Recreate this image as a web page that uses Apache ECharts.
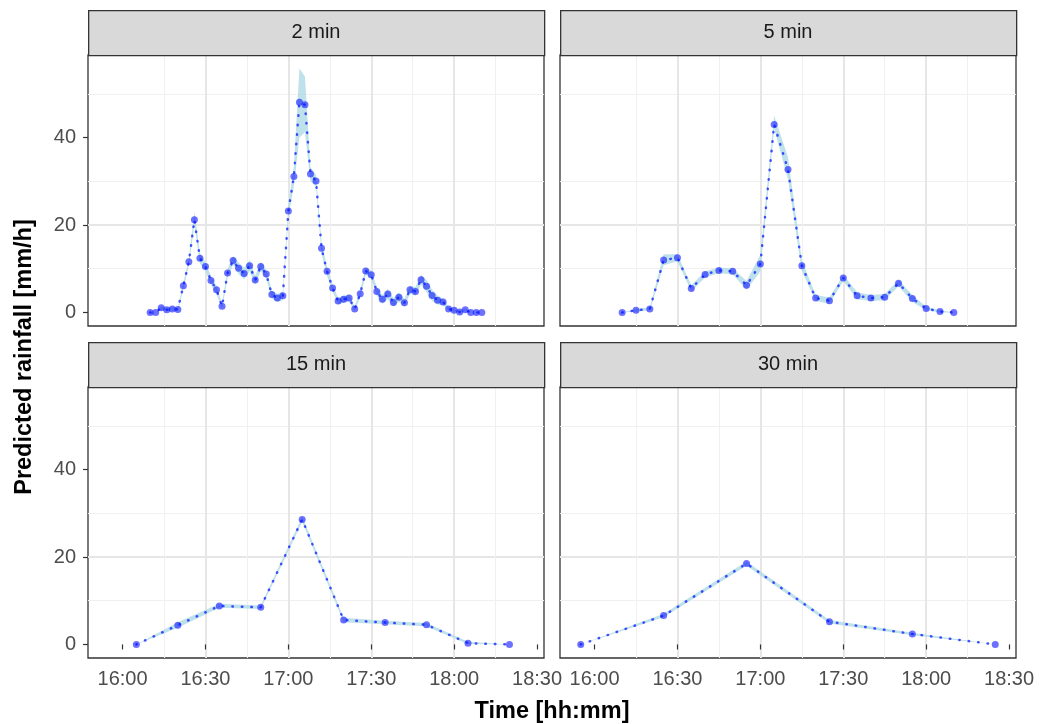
<!DOCTYPE html>
<html><head><meta charset="utf-8">
<script src="https://cdn.jsdelivr.net/npm/echarts@6/dist/echarts.min.js"></script>
<style>html,body{margin:0;padding:0;background:#fff}#c{width:1041px;height:724px}</style>
</head><body><div id="c"></div>
<script>
const panelTitles = ['2 min', '5 min', '15 min', '30 min'];
const xTickLabels = ['16:00', '16:30', '17:00', '17:30', '18:00', '18:30'];
const yTickLabels = [0, 20, 40];

const times2 = ['16:10','16:12','16:14','16:16','16:18','16:20','16:22','16:24','16:26','16:28','16:30','16:32','16:34','16:36','16:38','16:40','16:42','16:44','16:46','16:48','16:50','16:52','16:54','16:56','16:58','17:00','17:02','17:04','17:06','17:08','17:10','17:12','17:14','17:16','17:18','17:20','17:22','17:24','17:26','17:28','17:30','17:32','17:34','17:36','17:38','17:40','17:42','17:44','17:46','17:48','17:50','17:52','17:54','17:56','17:58','18:00','18:02','18:04','18:06','18:08','18:10'];
const rain2 = [0,0,1.1,0.6,0.8,0.7, 6.1,11.6,21.2,12.4,10.5,7.3,5.2,1.4,9.0,11.9, 10.1,8.9,10.7,7.4,10.5,8.8,4.1,3.3,3.8, 23.2,31.1,48.1,47.5,31.7,30.1,14.7,9.4,5.6,2.6, 3.0,3.3,0.8,4.3,9.5,8.6,4.8,3.0,4.2,2.3, 3.5,2.2,5.2,4.8,7.5,6.0,3.9,2.8,2.4,0.8, 0.5,0.1,0.6,0,0,0];
const lo2 = [0,0,0.6,0.3,0.4,0.3, 5.3,10.8,20.0,11.2,9.5,6.3,4.3,0.8,8.0,10.9, 8.8,7.6,9.4,6.4,9.4,7.8,3.2,2.4,2.8, 21.8,29.0,40.0,41.2,30.0,28.8,13.5,8.4,4.8,1.9, 2.2,2.5,0.3,3.5,8.6,7.7,3.8,2.0,3.0,1.3, 2.4,1.3,4.3,3.8,6.4,4.6,2.6,1.8,1.6,0.4, 0.2,0,0.3,0,0,0];
const hi2 = [0,0,1.5,1.0,1.2,1.1, 6.8,12.4,23.0,13.6,11.5,8.3,6.1,2.0,10.0,12.9, 11.4,10.2,12.0,8.4,11.6,9.8,5.0,4.2,4.8, 24.6,33.5,55.8,54.0,33.2,31.5,16.0,10.4,6.4,3.3, 3.8,4.1,1.4,5.1,10.4,9.5,5.8,4.0,5.4,3.3, 4.6,3.1,6.1,5.8,8.6,7.4,5.2,3.8,3.2,1.2, 0.8,0.3,0.9,0,0,0];

const times5 = ['16:10','16:15','16:20','16:25','16:30','16:35','16:40','16:45','16:50','16:55','17:00','17:05','17:10','17:15','17:20','17:25','17:30','17:35','17:40','17:45','17:50','17:55','18:00','18:05','18:10'];
const rain5 = [0,0.5,0.8,12.0,12.5,5.5,8.7,9.6,9.4,6.2,11.1,43.0,32.7,10.7,3.3,2.7,7.9,3.8,3.3,3.5,6.7,3.2,0.9,0.2,0];
const lo5 = [0,0.2,0.4,10.8,11.7,4.8,8.0,9.0,8.7,5.2,9.4,42.0,30.5,9.5,2.6,2.0,7.2,3.0,2.6,2.8,6.0,2.4,0.5,0,0];
const hi5 = [0,0.8,1.2,13.3,13.3,6.2,9.4,10.2,10.1,7.2,13.2,45.0,35.5,12.0,4.0,3.4,8.6,4.6,4.0,4.2,7.4,4.0,1.3,0.5,0];

const times15 = ['16:05','16:20','16:35','16:50','17:05','17:20','17:35','17:50','18:05','18:20'];
const rain15 = [0,4.4,8.8,8.5,28.6,5.6,5.0,4.5,0.3,0];
const lo15 = [0,3.8,8.4,8.1,28.0,5.1,4.6,4.1,0.1,0];
const hi15 = [0,5.1,9.3,8.9,29.2,6.1,5.4,4.9,0.6,0];

const times30 = ['15:55','16:25','16:55','17:25','17:55','18:25'];
const rain30 = [0,6.6,18.5,5.2,2.4,0];
const lo30 = [0,6.2,18.0,4.8,2.1,0];
const hi30 = [0,7.0,19.0,5.6,2.7,0];

function toMin(s) { const p = s.split(':'); return (+p[0]) * 60 + (+p[1]); }
function fmt(v) { const h = Math.floor(v / 60), m = Math.round(v - h * 60); return h + ':' + (m < 10 ? '0' : '') + m; }

const panels = [
  { t: times2, v: rain2, lo: lo2, hi: hi2 },
  { t: times5, v: rain5, lo: lo5, hi: hi5 },
  { t: times15, v: rain15, lo: lo15, hi: hi15 },
  { t: times30, v: rain30, lo: lo30, hi: hi30 }
];

const FONT = "'Liberation Sans', Arial, Helvetica, sans-serif";
const X_MIN = 947.5, X_MAX = 1112.5, Y_MIN = -3.1, Y_MAX = 58.9;
const xTickVals = xTickLabels.map(toMin);
const boxes = [
  { left: 88, top: 55, width: 456, height: 271 },
  { left: 560, top: 55, width: 456, height: 271 },
  { left: 88, top: 387, width: 456, height: 271 },
  { left: 560, top: 387, width: 456, height: 271 }
];

const grid = boxes.map(b => Object.assign({ show: true, borderColor: '#333333', borderWidth: 1.3, backgroundColor: '#ffffff', containLabel: false }, b));
const xAxis = [], yAxis = [], series = [];
const MAJOR = { color: '#E6E6E6', width: 2 };
const MINOR = { color: '#F0F0F0', width: 1.1 };
boxes.forEach((b, i) => {
  const bottom = i >= 2, leftCol = (i % 2 === 0);
  xAxis.push({
    type: 'value', gridIndex: i, min: X_MIN, max: X_MAX, minInterval: 30, maxInterval: 30,
    axisLine: { show: false },
    axisTick: { show: bottom, customValues: xTickVals, length: 5, lineStyle: { color: '#333333', width: 1.2 } },
    axisLabel: { show: bottom, customValues: xTickVals, formatter: v => fmt(v), fontFamily: FONT, fontSize: 20, color: '#4d4d4d', margin: 11 },
    splitLine: { show: true, showMinLine: false, showMaxLine: false, lineStyle: MAJOR }
  });
  yAxis.push({
    type: 'value', gridIndex: i, min: Y_MIN, max: Y_MAX, minInterval: 20, maxInterval: 20,
    axisLine: { show: false },
    axisTick: { show: leftCol, customValues: yTickLabels, length: 5, lineStyle: { color: '#333333', width: 1.2 } },
    axisLabel: { show: leftCol, customValues: yTickLabels, fontFamily: FONT, fontSize: 20, color: '#4d4d4d', margin: 12 },
    splitLine: { show: true, showMinLine: false, showMaxLine: false, lineStyle: MAJOR }
  });
});
// minor grid lines (shifted helper axes, half-way between major ticks)
boxes.forEach((b, i) => {
  xAxis.push({
    type: 'value', gridIndex: i, min: X_MIN - 15, max: X_MAX - 15, minInterval: 30, maxInterval: 30,
    axisLine: { show: false }, axisTick: { show: false }, axisLabel: { show: false },
    splitLine: { show: true, showMinLine: false, showMaxLine: false, lineStyle: MINOR }
  });
  yAxis.push({
    type: 'value', gridIndex: i, min: Y_MIN + 10, max: Y_MAX + 10, minInterval: 20, maxInterval: 20,
    axisLine: { show: false }, axisTick: { show: false }, axisLabel: { show: false },
    splitLine: { show: true, showMinLine: false, showMaxLine: false, lineStyle: MINOR }
  });
});

panels.forEach((p, i) => {
  const xs = p.t.map(toMin);
  series.push({
    type: 'custom', xAxisIndex: i, yAxisIndex: i, clip: true, silent: true, z: 2,
    data: xs.map((x, k) => [x, p.lo[k], p.hi[k]]),
    encode: { x: 0, y: [1, 2] },
    renderItem: function (params, api) {
      if (params.dataIndex !== 0) return null;
      const pts = [];
      for (let k = 0; k < xs.length; k++) pts.push(api.coord([xs[k], p.hi[k]]));
      for (let k = xs.length - 1; k >= 0; k--) pts.push(api.coord([xs[k], p.lo[k]]));
      return { type: 'polygon', shape: { points: pts }, style: { fill: 'rgba(173,216,230,0.78)', stroke: null } };
    }
  });
  series.push({
    type: 'line', xAxisIndex: i, yAxisIndex: i, z: 3, symbol: 'none', silent: true,
    data: xs.map((x, k) => [x, p.v[k]]),
    lineStyle: { color: 'rgba(20,40,255,0.8)', width: 2.5, type: [0.5, 9], cap: 'round' }
  });
  series.push({
    type: 'scatter', xAxisIndex: i, yAxisIndex: i, z: 4, symbolSize: 7, silent: true,
    data: xs.map((x, k) => [x, p.v[k]]),
    itemStyle: { color: 'rgba(10,20,255,0.75)' }
  });
});

const graphic = [];
boxes.forEach((b, i) => {
  graphic.push({
    type: 'rect', left: b.left, top: b.top - 45, z: 10,
    shape: { x: 0, y: 0, width: b.width, height: 45 },
    style: { fill: '#D9D9D9', stroke: '#333333', lineWidth: 1.3 }
  });
  graphic.push({
    type: 'text', z: 11, x: b.left + b.width / 2, y: b.top - 22.5,
    style: { text: panelTitles[i], font: '20px ' + FONT, fill: '#1a1a1a', align: 'center', verticalAlign: 'middle' }
  });
});
graphic.push({
  type: 'text', z: 11, x: 552, y: 712,
  style: { text: 'Time [hh:mm]', font: 'bold 23.5px ' + FONT, fill: '#000', align: 'center', verticalAlign: 'middle' }
});
graphic.push({
  type: 'text', z: 11, x: 25, y: 357, rotation: Math.PI / 2,
  style: { text: 'Predicted rainfall [mm/h]', font: 'bold 23.5px ' + FONT, fill: '#000', align: 'center', verticalAlign: 'middle' }
});

const chart = echarts.init(document.getElementById('c'), null, { renderer: 'canvas' });
chart.setOption({ animation: false, backgroundColor: '#ffffff', grid, xAxis, yAxis, series, graphic });
</script></body></html>
